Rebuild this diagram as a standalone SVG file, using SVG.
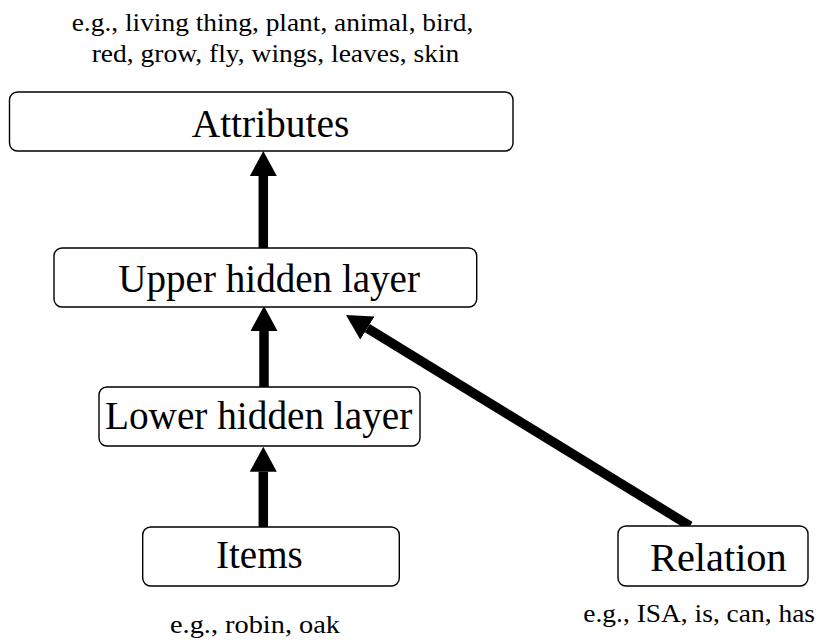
<svg xmlns="http://www.w3.org/2000/svg" width="822" height="644" viewBox="0 0 822 644">
<style>
.box{fill:#fff;stroke:#000;stroke-width:1.4}
.lbl{font-family:"Liberation Serif","Tinos","Nimbus Roman","Noto Serif","FreeSerif","Times",serif;font-size:40px;fill:#000}
.note{font-family:"Liberation Serif","Tinos","Nimbus Roman","Noto Serif","FreeSerif","Times",serif;font-size:26px;fill:#000}
.conn{stroke:#000;stroke-width:9.5;fill:none;marker-end:url(#ah)}
</style>
<defs>
<marker id="ah" markerUnits="userSpaceOnUse" viewBox="0 0 25 27" markerWidth="25" markerHeight="27" refX="0" refY="13.5" orient="auto">
<path d="M0,0 L25,13.5 L0,27 Z" fill="#000"/>
</marker>
</defs>
<rect width="822" height="644" fill="#fff"/>
<text class="note" x="71.7" y="30.7" textLength="401.6" lengthAdjust="spacingAndGlyphs">e.g., living thing, plant, animal, bird,</text>
<text class="note" x="91.7" y="61.7" textLength="367.6" lengthAdjust="spacingAndGlyphs">red, grow, fly, wings, leaves, skin</text>
<text class="note" x="170" y="633" textLength="170" lengthAdjust="spacingAndGlyphs">e.g., robin, oak</text>
<text class="note" x="583.3" y="621.7" textLength="231.7" lengthAdjust="spacingAndGlyphs">e.g., ISA, is, can, has</text>
<g id="connectors">
<line class="conn" x1="263.3" y1="248" x2="263.3" y2="176"/>
<line class="conn" x1="264" y1="387" x2="264" y2="331"/>
<line class="conn" x1="263.3" y1="527" x2="263.3" y2="471.7"/>
<line class="conn" x1="690" y1="526" x2="367.3" y2="328.1"/>
</g>
<g id="attributes">
<rect class="box" x="9.5" y="92" width="503.5" height="59" rx="8"/>
<text class="lbl" x="191.7" y="137" textLength="157.6" lengthAdjust="spacingAndGlyphs">Attributes</text>
</g>
<g id="upper">
<rect class="box" x="54" y="248" width="422.7" height="59" rx="8"/>
<text class="lbl" x="118.3" y="292" textLength="301.7" lengthAdjust="spacingAndGlyphs">Upper hidden layer</text>
</g>
<g id="lower">
<rect class="box" x="99" y="387" width="321" height="59" rx="8"/>
<text class="lbl" x="105" y="429" textLength="307.3" lengthAdjust="spacingAndGlyphs">Lower hidden layer</text>
</g>
<g id="items">
<rect class="box" x="142.7" y="527" width="256.6" height="59" rx="8"/>
<text class="lbl" x="216" y="568.3" textLength="86.7" lengthAdjust="spacingAndGlyphs">Items</text>
</g>
<g id="relation">
<rect class="box" x="618" y="526" width="190" height="60" rx="8"/>
<text class="lbl" x="650" y="570.7" textLength="136.7" lengthAdjust="spacingAndGlyphs">Relation</text>
</g>
</svg>
